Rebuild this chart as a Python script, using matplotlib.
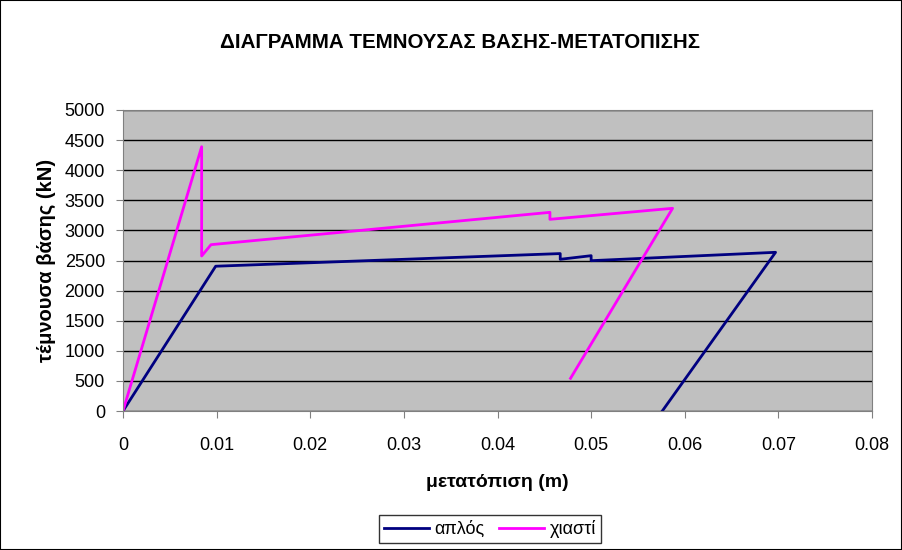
import matplotlib.pyplot as plt
from matplotlib.patches import Rectangle

plt.rcParams['font.family'] = ['Liberation Sans', 'DejaVu Sans']

# απλός
x_aplos = [0, 0.0099, 0.0467, 0.0467, 0.0500, 0.0500, 0.0697, 0.0576]
y_aplos = [0, 2405, 2615, 2520, 2580, 2497, 2636, 0]

# χιαστί
x_xiasti = [0, 0.0084, 0.0084, 0.0094, 0.0456, 0.0456, 0.0587, 0.0478]
y_xiasti = [0, 4390, 2575, 2763, 3300, 3184, 3367, 543]

x_ticks = [0, 0.01, 0.02, 0.03, 0.04, 0.05, 0.06, 0.07, 0.08]
x_labels = ['0', '0.01', '0.02', '0.03', '0.04', '0.05', '0.06', '0.07', '0.08']
y_ticks = list(range(0, 5001, 500))

fig = plt.figure(figsize=(9.02, 5.5), dpi=100)
ax = fig.add_axes([123/902, 1 - 411/550, (872-123)/902, (411-110)/550])
ax.set_facecolor('#C0C0C0')

ax.plot(x_aplos, y_aplos, color='#000080', lw=2, label='απλός')
ax.plot(x_xiasti, y_xiasti, color='#FF00FF', lw=2, label='χιαστί')

ax.set_xlim(0, 0.08)
ax.set_ylim(0, 5000)
ax.set_xticks(x_ticks)
ax.set_xticklabels(x_labels)
ax.set_yticks(y_ticks)
ax.yaxis.grid(True, color='black', lw=1)
ax.set_axisbelow(True)
ax.tick_params(labelsize=13, direction='out', length=5, color='#808080')
ax.tick_params(axis='x', pad=14)
ax.tick_params(axis='y', pad=8)
for s in ['top', 'right', 'left', 'bottom']:
    ax.spines[s].set_color('#808080')

ax.set_xlabel('μετατόπιση (m)', fontsize=14, fontweight='bold', labelpad=14)
ax.set_ylabel('τέμνουσα βάσης (kN)', fontsize=14.5, fontweight='bold', labelpad=6)
fig.text(460/902, 1 - 43/550, 'ΔΙΑΓΡΑΜΜΑ ΤΕΜΝΟΥΣΑΣ ΒΑΣΗΣ-ΜΕΤΑΤΟΠΙΣΗΣ',
         fontsize=14.8, fontweight='bold', ha='center', va='center')

leg = fig.legend(loc='center', bbox_to_anchor=(490/902, 1 - 529/550), ncol=2,
                 fontsize=13, frameon=True, fancybox=False, edgecolor='black',
                 handlelength=2.5, handletextpad=0.3, columnspacing=0.8,
                 borderpad=0.3)
leg.get_frame().set_linewidth(1)

fig.patches.append(Rectangle((0, 0), 1, 1, transform=fig.transFigure,
                             fill=False, edgecolor='black', lw=1.5))

fig.savefig('out.png', dpi=100)
